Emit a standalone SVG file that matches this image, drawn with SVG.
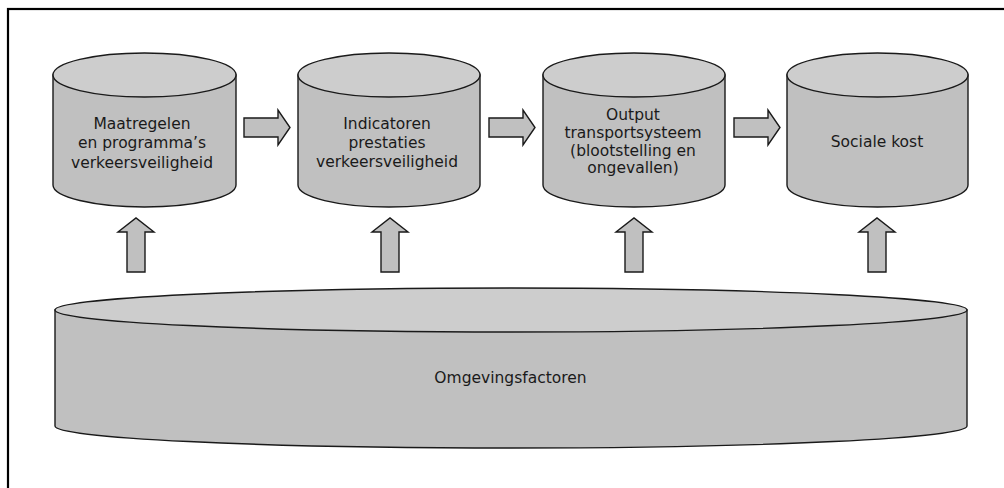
<svg xmlns="http://www.w3.org/2000/svg" width="1004" height="488" viewBox="0 0 1004 488">
<style>
.side{fill:#c0c0c0;stroke:#1a1a1a;stroke-width:1.4}
.top{fill:#cdcdcd;stroke:#1a1a1a;stroke-width:1.4}
.arr{fill:#c0c0c0;stroke:#1a1a1a;stroke-width:1.4;stroke-linejoin:miter}
text{font-family:"DejaVu Sans",Verdana,sans-serif;font-size:15.5px;fill:#1a1a1a;text-anchor:middle}
</style>
<rect width="1004" height="488" fill="#fff"/>
<rect x="8" y="9" width="1010" height="500" fill="none" stroke="#000" stroke-width="2.2"/>
<g id="n1">
<path class="side" d="M53,75 V185 A91.5,22 0 0 0 236,185 V75 Z"/>
<ellipse class="top" cx="144.5" cy="75" rx="91.5" ry="22"/>
<text x="142" y="128.5">Maatregelen</text>
<text x="142" y="148">en programma’s</text>
<text x="142" y="167.5">verkeersveiligheid</text>
</g>
<g id="n2">
<path class="side" d="M298,75 V185 A91,22 0 0 0 480,185 V75 Z"/>
<ellipse class="top" cx="389" cy="75" rx="91" ry="22"/>
<text x="387" y="129">Indicatoren</text>
<text x="387" y="148">prestaties</text>
<text x="387" y="167">verkeersveiligheid</text>
</g>
<g id="n3">
<path class="side" d="M543,75 V185 A91,22 0 0 0 725,185 V75 Z"/>
<ellipse class="top" cx="634" cy="75" rx="91" ry="22"/>
<text x="633" y="120">Output</text>
<text x="633" y="138">transportsysteem</text>
<text x="633" y="155.5">(blootstelling en</text>
<text x="633" y="173">ongevallen)</text>
</g>
<g id="n4">
<path class="side" d="M787,75 V185 A90.5,22 0 0 0 968,185 V75 Z"/>
<ellipse class="top" cx="877.5" cy="75" rx="90.5" ry="22"/>
<text x="877" y="147">Sociale kost</text>
</g>
<g id="n5">
<path class="side" d="M55,310 V426 A456,22 0 0 0 967,426 V310 Z"/>
<ellipse class="top" cx="511" cy="310" rx="456" ry="22"/>
<text x="510.5" y="383">Omgevingsfactoren</text>
</g>
<g id="connectors">
<path class="arr" d="M244,118 H278 V110 L290,127.5 L278,145 V137 H244 Z"/>
<path class="arr" d="M489,118 H523 V110 L535,127.5 L523,145 V137 H489 Z"/>
<path class="arr" d="M734,118 H768 V110 L780,127.5 L768,145 V137 H734 Z"/>
<path class="arr" d="M127,272 V232 H118 L136,218 L154,232 H145 V272 Z"/>
<path class="arr" d="M381,272 V232 H372 L390,218 L408,232 H399 V272 Z"/>
<path class="arr" d="M625,272 V232 H616 L634,218 L652,232 H643 V272 Z"/>
<path class="arr" d="M868,272 V232 H859 L877,218 L895,232 H886 V272 Z"/>
</g>
</svg>
